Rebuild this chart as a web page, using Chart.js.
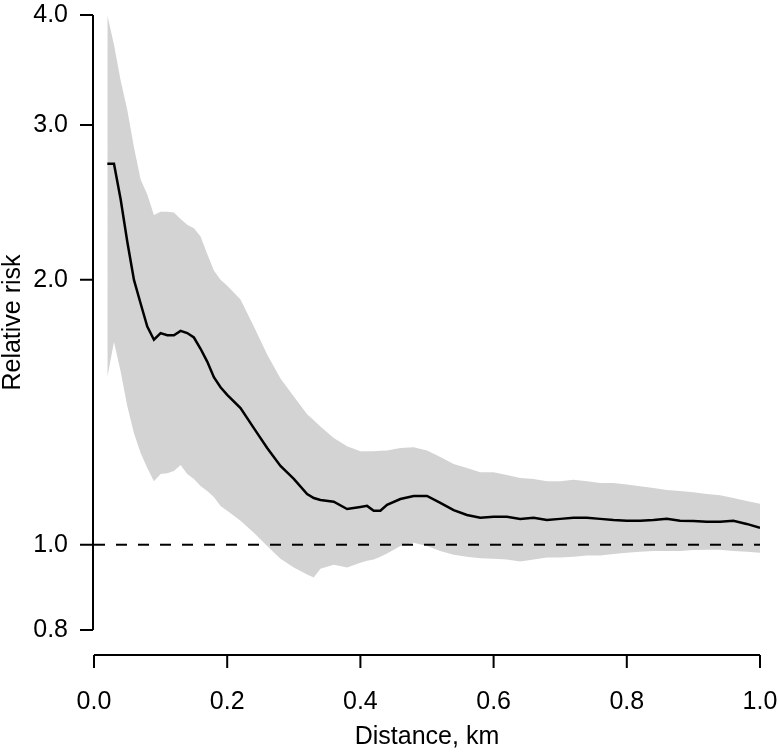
<!DOCTYPE html>
<html>
<head>
<meta charset="utf-8">
<script src="https://cdn.jsdelivr.net/npm/chart.js@4"></script>
<style>
  body { margin: 0; background: #fff; }
</style>
</head>
<body>
<canvas id="myChart" width="780" height="753"></canvas>
<script>
// distance from the source, km
const distances = [0.02, 0.03, 0.04, 0.05, 0.06, 0.07, 0.08, 0.09, 0.10, 0.11, 0.12, 0.13, 0.14, 0.15, 0.16, 0.17, 0.18, 0.19, 0.20,
    0.22, 0.24, 0.26, 0.28, 0.30, 0.32, 0.33, 0.34, 0.36, 0.38, 0.40, 0.41, 0.42, 0.43,
    0.44, 0.46, 0.48, 0.50, 0.52, 0.54, 0.56, 0.58, 0.60, 0.62, 0.64, 0.66, 0.68, 0.70, 0.72, 0.74,
    0.76, 0.78, 0.80, 0.82, 0.84, 0.86, 0.88, 0.90, 0.92, 0.94, 0.96, 0.98, 1.00];

// estimated relative risk
const riskMean = [2.71, 2.71, 2.47, 2.21, 2.00, 1.88, 1.77, 1.71, 1.74, 1.73, 1.73, 1.75, 1.74, 1.72, 1.67, 1.615, 1.55, 1.51, 1.48,
    1.43, 1.357, 1.288, 1.229, 1.188, 1.142, 1.13, 1.124, 1.119, 1.098, 1.104, 1.107, 1.093, 1.093,
    1.11, 1.127, 1.136, 1.136, 1.116, 1.095, 1.081, 1.073, 1.076, 1.076, 1.070, 1.073, 1.067, 1.070, 1.073, 1.073,
    1.070, 1.067, 1.065, 1.065, 1.067, 1.070, 1.065, 1.064, 1.062, 1.062, 1.065, 1.056, 1.045];

// confidence band
const ciUpper = [4.0, 3.70, 3.37, 3.12, 2.83, 2.60, 2.50, 2.37, 2.39, 2.39, 2.385, 2.345, 2.31, 2.29, 2.24, 2.14, 2.05, 2.00, 1.97,
    1.90, 1.77, 1.645, 1.545, 1.474, 1.407, 1.385, 1.363, 1.322, 1.294, 1.277, 1.277, 1.277, 1.279,
    1.28, 1.288, 1.291, 1.28, 1.258, 1.235, 1.222, 1.209, 1.209, 1.20, 1.191, 1.188, 1.181, 1.181, 1.185, 1.181,
    1.175, 1.175, 1.171, 1.165, 1.16, 1.154, 1.151, 1.147, 1.142, 1.138, 1.130, 1.121, 1.113];

const ciLower = [1.55, 1.70, 1.574, 1.437, 1.339, 1.271, 1.222, 1.181, 1.203, 1.206, 1.213, 1.232, 1.203, 1.188, 1.166, 1.151, 1.133, 1.107, 1.093,
    1.065, 1.032, 0.997, 0.964, 0.942, 0.925, 0.918, 0.939, 0.949, 0.942, 0.954, 0.959, 0.962, 0.969,
    0.977, 0.997, 1.005, 0.997, 0.984, 0.974, 0.969, 0.965, 0.964, 0.962, 0.957, 0.962, 0.967, 0.967, 0.969, 0.972,
    0.972, 0.976, 0.979, 0.982, 0.984, 0.984, 0.984, 0.986, 0.987, 0.987, 0.984, 0.982, 0.979];

// reference line at RR = 1
const refX = [0, 1];
const refY = [1, 1];

const xTicks = [0, 0.2, 0.4, 0.6, 0.8, 1.0];
const yTicks = [0.8, 1.0, 2.0, 3.0, 4.0];

Chart.defaults.font.family = "'Liberation Sans', Arial, Helvetica, sans-serif";
Chart.defaults.font.size = 25;
Chart.defaults.color = '#000';

function toPoints(xs, ys) {
    return xs.map((x, i) => ({ x: x, y: ys[i] }));
}

// R style axes: line only from first to last tick, ticks pointing out
const rAxes = {
    id: 'rAxes',
    afterDraw(chart) {
        const c = chart.ctx;
        const sx = chart.scales.x;
        const sy = chart.scales.y;
        const left = chart.chartArea.left - 1;
        const base = chart.chartArea.bottom + 25;
        c.save();
        c.strokeStyle = '#000';
        c.lineWidth = 2;
        c.beginPath();
        c.moveTo(left, sy.getPixelForValue(yTicks[yTicks.length - 1]));
        c.lineTo(left, sy.getPixelForValue(yTicks[0]));
        yTicks.forEach(v => {
            const p = sy.getPixelForValue(v);
            c.moveTo(left, p);
            c.lineTo(left - 13, p);
        });
        c.moveTo(sx.getPixelForValue(xTicks[0]), base);
        c.lineTo(sx.getPixelForValue(xTicks[xTicks.length - 1]), base);
        xTicks.forEach(v => {
            const p = sx.getPixelForValue(v);
            c.moveTo(p, base);
            c.lineTo(p, base + 13);
        });
        c.stroke();
        c.restore();
    }
};

function noOverhang(s) {
    s.paddingLeft = 0;
    s.paddingRight = 0;
    s.paddingTop = 0;
    s.paddingBottom = 0;
}

const ctx = document.getElementById('myChart').getContext('2d');
const myChart = new Chart(ctx, {
    type: 'line',
    data: {
        datasets: [
            {
                label: 'Relative risk',
                data: toPoints(distances, riskMean),
                borderColor: '#000',
                borderWidth: 2.5,
                pointRadius: 0,
                fill: false,
                tension: 0
            },
            {
                label: 'RR = 1',
                data: toPoints(refX, refY),
                borderColor: '#000',
                borderWidth: 2,
                borderDash: [11, 11],
                pointRadius: 0,
                fill: false
            },
            {
                label: 'Upper',
                data: toPoints(distances, ciUpper),
                borderWidth: 0,
                borderColor: 'rgba(0,0,0,0)',
                backgroundColor: '#d3d3d3',
                pointRadius: 0,
                fill: '+1'
            },
            {
                label: 'Lower',
                data: toPoints(distances, ciLower),
                borderWidth: 0,
                borderColor: 'rgba(0,0,0,0)',
                pointRadius: 0,
                fill: false
            }
        ]
    },
    options: {
        responsive: false,
        animation: false,
        layout: { padding: { top: 15, right: 20, left: 0, bottom: 0 } },
        plugins: {
            legend: { display: false },
            tooltip: { enabled: false }
        },
        scales: {
            x: {
                type: 'linear',
                min: 0,
                max: 1,
                grid: { display: false, drawTicks: false },
                border: { display: false },
                afterBuildTicks: s => { s.ticks = xTicks.map(v => ({ value: v })); },
                afterFit: s => { s.height = 123; noOverhang(s); },
                ticks: {
                    padding: 57,
                    maxRotation: 0,
                    autoSkip: false,
                    callback: v => Number(v).toFixed(1)
                },
                title: {
                    display: true,
                    text: 'Distance, km',
                    padding: { top: 0, bottom: 1 }
                }
            },
            y: {
                type: 'logarithmic',
                min: 0.8,
                max: 4,
                grid: { display: false, drawTicks: false },
                border: { display: false },
                afterBuildTicks: s => { s.ticks = yTicks.map(v => ({ value: v })); },
                afterFit: s => { s.width = 94; noOverhang(s); },
                ticks: {
                    padding: 26,
                    autoSkip: false,
                    callback: v => Number(v).toFixed(1)
                },
                title: {
                    display: true,
                    text: 'Relative risk',
                    padding: { top: -2, bottom: 0 }
                }
            }
        }
    },
    plugins: [rAxes]
});
</script>
</body>
</html>
